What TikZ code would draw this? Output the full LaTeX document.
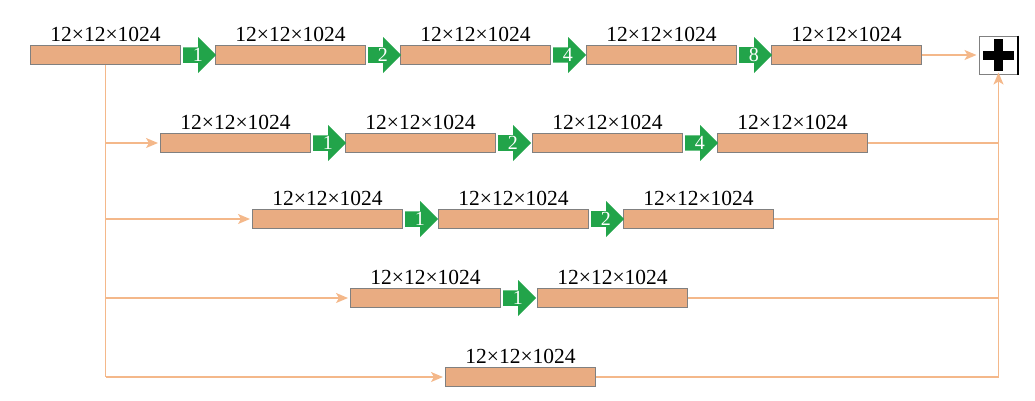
\documentclass[tikz,border=0pt]{standalone}
\usepackage{fontspec}
\setmainfont{Liberation Serif}
\usetikzlibrary{shapes.arrows,arrows.meta}
\definecolor{boxfill}{RGB}{233,172,130}
\definecolor{boxdraw}{RGB}{128,128,128}
\definecolor{gr}{RGB}{34,164,74}
\definecolor{lncol}{RGB}{244,184,138}
\tikzset{
  bx/.style={draw=boxdraw,fill=boxfill,line width=1pt,minimum width=150pt,minimum height=19pt,inner sep=0pt,anchor=west},
  lbl/.style={font=\fontsize{21.5}{23}\selectfont,inner sep=0pt,anchor=south,yshift=3.5pt},
  garr/.style={shape=single arrow,fill=gr,draw=none,inner sep=0pt,minimum height=33pt,minimum width=36pt,single arrow head extend=9pt,single arrow tip angle=90,anchor=tail,text=white,font=\fontsize{20}{22}\selectfont},
  cline/.style={draw=lncol,line width=1.4pt},
  carr/.style={cline,-{Stealth[length=12pt,width=10pt,inset=3pt]}},
}
\begin{document}
\begin{tikzpicture}[x=1pt,y=-1pt]
\useasboundingbox (0,0) rectangle (1035,400);
% row 1
\foreach \n/\x in {1/30,2/215,3/400,4/586,5/771}{
  \node[bx] (r1b\n) at (\x,55) {};
  \node[lbl] (r1l\n) at (r1b\n.north) {12×12×1024};
}
% row 2
\foreach \n/\x in {1/160,2/345,3/532,4/717}{
  \node[bx] (r2b\n) at (\x,143) {};
  \node[lbl] (r2l\n) at (r2b\n.north) {12×12×1024};
}
% row 3
\foreach \n/\x in {1/252,2/438,3/623}{
  \node[bx] (r3b\n) at (\x,219) {};
  \node[lbl] (r3l\n) at (r3b\n.north) {12×12×1024};
}
% row 4
\foreach \n/\x in {1/350,2/537}{
  \node[bx] (r4b\n) at (\x,298) {};
  \node[lbl] (r4l\n) at (r4b\n.north) {12×12×1024};
}
% row 5
\node[bx] (r5b1) at (445,377) {};
\node[lbl] (r5l1) at (r5b1.north) {12×12×1024};
% green arrows
\node[garr] (a11) at ([xshift=2pt]r1b1.east) {\hspace*{4pt}1};
\node[garr] (a12) at ([xshift=2pt]r1b2.east) {\hspace*{4pt}2};
\node[garr] (a13) at ([xshift=2pt]r1b3.east) {\hspace*{4pt}4};
\node[garr] (a14) at ([xshift=2pt]r1b4.east) {\hspace*{4pt}8};
\node[garr] (a21) at ([xshift=2pt]r2b1.east) {\hspace*{4pt}1};
\node[garr] (a22) at ([xshift=2pt]r2b2.east) {\hspace*{4pt}2};
\node[garr] (a23) at ([xshift=2pt]r2b3.east) {\hspace*{4pt}4};
\node[garr] (a31) at ([xshift=2pt]r3b1.east) {\hspace*{4pt}1};
\node[garr] (a32) at ([xshift=2pt]r3b2.east) {\hspace*{4pt}2};
\node[garr] (a41) at ([xshift=2pt]r4b1.east) {\hspace*{4pt}1};
% plus box
\node[draw=boxdraw,fill=white,line width=1pt,minimum width=39pt,minimum height=38pt,inner sep=0pt] (plus) at (998.5,55) {};
\draw[line width=2pt,black] ([xshift=-0.5pt]plus.north east) -- ([xshift=-0.5pt]plus.south east);
\fill[black] ([xshift=-15.5pt,yshift=-4.5pt]plus.center) rectangle ([xshift=15.5pt,yshift=4.5pt]plus.center);
\fill[black] ([xshift=-4.5pt,yshift=-16pt]plus.center) rectangle ([xshift=4.5pt,yshift=16pt]plus.center);
% left branches
\coordinate (lb) at (r1b1.south |- r5b1.west);
\draw[cline] (r1b1.south) -- (lb);
\draw[carr] (r1b1.south |- r2b1.west) -- ([xshift=-2pt]r2b1.west);
\draw[carr] (r1b1.south |- r3b1.west) -- ([xshift=-2pt]r3b1.west);
\draw[carr] (r1b1.south |- r4b1.west) -- ([xshift=-2pt]r4b1.west);
\draw[carr] (lb) -- ([xshift=-2pt]r5b1.west);
% right merges
\draw[carr] (r1b5.east) -- ([xshift=-2pt]plus.west);
\draw[carr] (r5b1.east) -| ([yshift=2pt]plus.south);
\draw[cline] (r2b4.east) -- (r2b4.east -| plus.south);
\draw[cline] (r3b3.east) -- (r3b3.east -| plus.south);
\draw[cline] (r4b2.east) -- (r4b2.east -| plus.south);
\end{tikzpicture}
\end{document}
